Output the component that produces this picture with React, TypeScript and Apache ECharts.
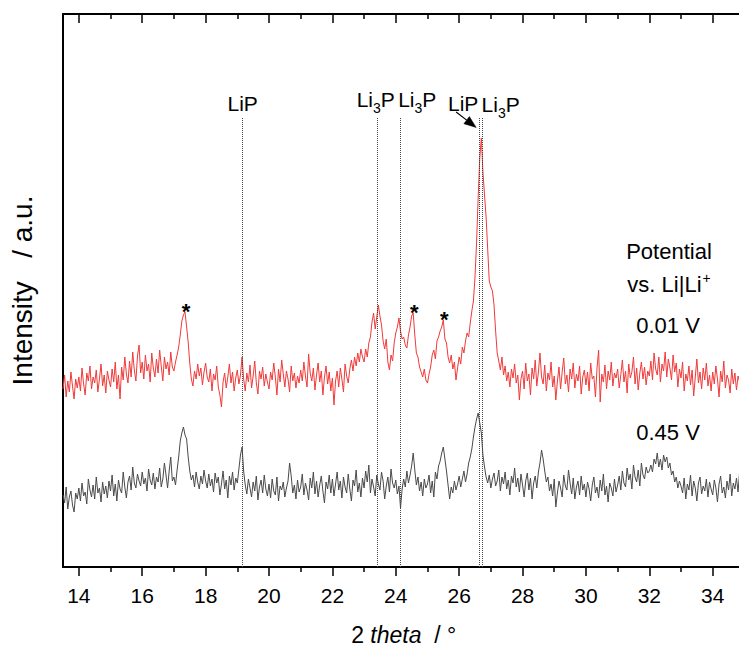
import { useEffect, useRef } from "react";
import * as echarts from "echarts";

const FONT = '"Liberation Sans", Arial, Helvetica, sans-serif';

// 2θ sampling of both patterns
const THETA_START = 13.5;
const THETA_STEP = 0.05;

// Intensity (a.u.) at 0.01 V vs Li|Li+ (red), one row per degree
const INTENSITY_0_01V = [
  178, 192, 170, 186, 175, 195, 181, 168, 188, 179,
  190, 176, 199, 183, 172, 194, 186, 201, 178, 190, 184, 197, 175, 188, 203, 181, 192, 174, 196, 187,
  180, 198, 185, 205, 178, 192, 168, 200, 187, 210, 193, 184, 206, 190, 215, 197, 186, 211, 222, 194,
  205, 188, 212, 196, 203, 185, 214, 199, 190, 208, 194, 217, 201, 186, 210, 198, 205, 192, 215, 200,
  196, 205, 212, 220, 232, 246, 252, 255, 240, 225, 204, 188, 181, 196, 188, 203, 191, 199, 182, 195,
  204, 190, 185, 198, 176, 193, 187, 201, 180, 172, 160, 185, 194, 179, 190, 203, 184, 195, 176, 189,
  197, 183, 192, 210, 188, 176, 194, 185, 202, 179, 191, 206, 184, 173, 196, 188, 200, 181, 193, 185,
  178, 195, 187, 204, 190, 172, 198, 185, 207, 193, 180, 196, 188, 175, 201, 186, 194, 179, 191, 184,
  197, 186, 205, 191, 180, 213, 194, 186, 199, 177, 192, 204, 185, 196, 172, 190, 201, 183, 195, 176,
  189, 162, 186, 196, 180, 199, 188, 175, 203, 191, 184, 198, 207, 196, 210, 201, 214, 205, 218, 210,
  205, 218, 210, 224, 230, 245, 254, 238, 250, 262, 251, 242, 226, 218, 228, 205, 197, 212, 206, 224,
  234, 240, 249, 236, 228, 230, 222, 219, 232, 240, 251, 254, 232, 214, 210, 200, 195, 190, 198, 187,
  184, 193, 200, 212, 217, 208, 226, 230, 236, 240, 247, 228, 224, 210, 204, 212, 198, 205, 187, 199,
  210, 203, 220, 214, 226, 234, 230, 244, 256, 266, 290, 325, 370, 409, 429, 395, 372, 350, 318, 286,
  280, 276, 262, 236, 214, 206, 197, 210, 192, 201, 186, 195, 180, 198, 189, 203, 184, 192, 167, 188,
  196, 178, 204, 186, 193, 172, 199, 188, 207, 181, 195, 214, 190, 183, 202, 176, 194, 187, 205, 180,
  191, 167, 186, 200, 178, 195, 209, 183, 192, 175, 198, 188, 204, 179, 193, 186, 201, 173, 190, 197,
  182, 195, 176, 204, 188, 191, 170, 199, 217, 165, 193, 185, 202, 178, 196, 187, 205, 181, 194, 189,
  198, 179, 192, 207, 185, 196, 174, 203, 189, 195, 210, 183, 199, 177, 194, 205, 188, 200, 182, 196,
  191, 206, 187, 214, 198, 192, 210, 185, 203, 196, 215, 190, 208, 199, 187, 212, 195, 204, 180, 198,
  189, 205, 176, 193, 186, 201, 182, 197, 171, 190, 208, 184, 195, 178, 199, 187, 204, 181, 192, 176,
  195, 183, 201, 188, 170, 196, 185, 206, 179, 192, 187, 174, 198, 183, 194, 177, 191, 185, 199, 180,
  188,
];

// Intensity (a.u.) at 0.45 V vs Li|Li+ (grey)
const INTENSITY_0_45V = [
  72, 64, 80, 58, 70, 76, 62, 55, 74, 68,
  79, 66, 84, 71, 75, 63, 88, 77, 70, 82, 68, 90, 74, 79, 65, 85, 73, 81, 69, 86,
  76, 92, 71, 83, 66, 87, 78, 74, 95, 80, 69, 85, 91, 77, 100, 84, 79, 93, 86, 81,
  95, 83, 89, 76, 98, 87, 82, 94, 78, 90, 85, 99, 80, 88, 104, 92, 79, 96, 110, 86,
  90, 82, 97, 110, 126, 134, 140, 132, 128, 110, 96, 87, 92, 80, 95, 85, 78, 91, 83, 97,
  86, 79, 93, 81, 88, 75, 94, 84, 90, 72, 83, 96, 78, 87, 69, 91, 82, 95, 77, 89,
  84, 98, 112, 120, 96, 82, 73, 88, 79, 70, 85, 76, 91, 67, 80, 87, 74, 92, 78, 71,
  83, 69, 88, 76, 72, 90, 66, 81, 77, 85, 70, 79, 86, 104, 91, 74, 82, 68, 87, 75,
  80, 93, 72, 84, 77, 67, 89, 79, 95, 73, 86, 70, 82, 91, 76, 64, 85, 78, 92, 74,
  88, 71, 83, 95, 77, 86, 69, 90, 80, 74, 93, 78, 66, 87, 81, 97, 75, 84, 70, 89,
  79, 96, 85, 102, 74, 88, 80, 71, 92, 83, 77, 95, 86, 68, 81, 90, 75, 98, 84, 79,
  87, 73, 81, 59, 78, 88, 80, 96, 84, 92, 101, 114, 97, 82, 90, 76, 85, 71, 88, 79,
  83, 92, 74, 86, 70, 95, 88, 101, 106, 114, 120, 108, 96, 82, 68, 80, 74, 86, 77, 83,
  91, 80, 88, 96, 85, 93, 104, 110, 118, 130, 140, 148, 154, 144, 134, 112, 100, 90, 84, 92,
  79, 88, 94, 81, 86, 97, 76, 90, 83, 95, 78, 87, 72, 91, 84, 99, 80, 89, 75, 93,
  82, 70, 86, 94, 77, 89, 68, 84, 91, 79, 95, 104, 117, 108, 96, 85, 90, 76, 83, 71,
  88, 60, 74, 86, 79, 70, 92, 81, 77, 97, 84, 73, 89, 68, 80, 86, 72, 91, 77, 83,
  70, 85, 78, 66, 82, 90, 74, 80, 69, 87, 76, 93, 72, 81, 65, 84, 79, 71, 88, 75,
  82, 91, 77, 96, 84, 80, 99, 87, 93, 78, 102, 90, 85, 97, 81, 104, 92, 88, 100, 94,
  96, 102, 95, 108, 103, 114, 100, 108, 97, 112, 105, 110, 99, 104, 92, 96, 85, 90, 79, 86,
  81, 74, 89, 68, 83, 77, 92, 71, 86, 79, 66, 84, 90, 73, 81, 76, 88, 70, 85, 78,
  72, 87, 79, 65, 83, 91, 74, 80, 69, 86, 77, 93, 71, 84, 78, 89, 75, 96, 82, 88,
  80,
];

const X_MIN = 13.5;
const X_MAX = 35;
const Y_MIN = 0;
const Y_MAX = 553;

const X_MAJOR_TICKS = [14, 16, 18, 20, 22, 24, 26, 28, 30, 32, 34];
const X_MINOR_TICKS = [15, 17, 19, 21, 23, 25, 27, 29, 31, 33, 35];

// Reference reflections (dotted lines)
const REF_PHASES = ["LiP", "Li3P", "Li3P", "LiP", "Li3P"];
const REF_THETA = [19.17, 23.43, 24.14, 26.63, 26.74];
const REF_TOP = 449;

// Peaks marked with an asterisk (on the 0.01 V pattern)
const STAR_THETA = [17.35, 24.55, 25.5];
const STAR_VALUE = [255, 254, 247];

const SERIES_NAMES = ["0.01 V", "0.45 V"];

// layout of annotation texts (pixel offsets)
const LABEL_DX = [0, -2, 17, -16, 18];
const LABEL_DY = [-15, -18.5, -18.5, -15, -13.5];

export default function App() {
  const ref = useRef<HTMLDivElement>(null);

  useEffect(() => {
    document.body.style.margin = "0";
    const chart = echarts.init(ref.current!, null, { renderer: "svg" });

    const toPairs = (arr: number[]) =>
      arr.map((v, i) => [Number((THETA_START + i * THETA_STEP).toFixed(2)), v]);

    const black = { color: "#000", width: 2 };
    const tickStyle = { color: "#000", width: 1.5 };
    const xCommon = {
      type: "value",
      min: X_MIN,
      max: X_MAX,
      splitLine: { show: false },
      gridIndex: 0,
    };

    chart.setOption({
      animation: false,
      backgroundColor: "#fff",
      grid: {
        left: 63,
        top: 14,
        width: 681.4,
        height: 553,
        containLabel: false,
        outerBoundsMode: "none",
      },
      xAxis: [
        {
          ...xCommon,
          position: "bottom",
          axisLine: { show: true, onZero: false, lineStyle: black },
          axisTick: {
            show: true,
            inside: false,
            length: 9,
            customValues: X_MAJOR_TICKS,
            lineStyle: tickStyle,
          },
          axisLabel: {
            show: true,
            customValues: X_MAJOR_TICKS,
            margin: 18,
            fontSize: 21,
            color: "#000",
            fontFamily: FONT,
          },
          name: "{n|2 }{it|theta}{n|  / °}",
          nameLocation: "middle",
          nameGap: 56,
          nameTextStyle: {
            fontSize: 23,
            fontFamily: FONT,
            color: "#000",
            rich: {
              n: { fontSize: 23, fontFamily: FONT, color: "#000" },
              it: { fontSize: 23, fontFamily: FONT, color: "#000", fontStyle: "italic" },
            },
          },
        },
        {
          ...xCommon,
          position: "bottom",
          axisLine: { show: false, onZero: false },
          axisTick: {
            show: true,
            inside: false,
            length: 5,
            customValues: X_MINOR_TICKS,
            lineStyle: tickStyle,
          },
          axisLabel: { show: false },
        },
        {
          ...xCommon,
          position: "top",
          axisLine: { show: true, onZero: false, lineStyle: black },
          axisTick: {
            show: true,
            inside: true,
            length: 9,
            customValues: X_MAJOR_TICKS,
            lineStyle: tickStyle,
          },
          axisLabel: { show: false },
        },
        {
          ...xCommon,
          position: "top",
          axisLine: { show: false, onZero: false },
          axisTick: {
            show: true,
            inside: true,
            length: 5,
            customValues: X_MINOR_TICKS,
            lineStyle: tickStyle,
          },
          axisLabel: { show: false },
        },
      ],
      yAxis: {
        type: "value",
        min: Y_MIN,
        max: Y_MAX,
        axisLine: { show: true, onZero: false, lineStyle: black },
        axisTick: { show: false },
        axisLabel: { show: false },
        splitLine: { show: false },
        name: "Intensity   / a.u.",
        nameLocation: "middle",
        nameGap: 27,
        nameTextStyle: { fontSize: 28, fontFamily: FONT, color: "#000" },
      },
      series: [
        {
          type: "line",
          name: SERIES_NAMES[0],
          data: toPairs(INTENSITY_0_01V),
          symbol: "none",
          showSymbol: false,
          lineStyle: { color: "#f03a3a", width: 1 },
          itemStyle: { color: "#f03a3a" },
          z: 3,
          markLine: {
            silent: true,
            symbol: ["none", "none"],
            label: { show: false },
            lineStyle: { type: "dotted", color: "#444", width: 1 },
            data: REF_THETA.map((t) => [{ coord: [t, Y_MIN] }, { coord: [t, REF_TOP] }]),
          },
        },
        {
          type: "line",
          name: SERIES_NAMES[1],
          data: toPairs(INTENSITY_0_45V),
          symbol: "none",
          showSymbol: false,
          lineStyle: { color: "#4a4a4a", width: 1 },
          itemStyle: { color: "#4a4a4a" },
          z: 3,
        },
      ],
    });

    const px = (t: number, v: number) =>
      chart.convertToPixel({ xAxisIndex: 0, yAxisIndex: 0 }, [t, v]) as number[];

    const richPhase = {
      m: { fontSize: 21, fontFamily: FONT, fill: "#000", verticalAlign: "middle" },
      s: {
        fontSize: 14,
        lineHeight: 14,
        fontFamily: FONT,
        fill: "#000",
        verticalAlign: "middle",
        padding: [17, 0, 0, 0],
      },
    };

    const graphics: any[] = [];
    REF_THETA.forEach((t, i) => {
      const [x, y] = px(t, REF_TOP);
      const txt =
        REF_PHASES[i] === "Li3P" ? "{m|Li}{s|3}{m|P}" : "{m|" + REF_PHASES[i] + "}";
      graphics.push({
        type: "text",
        x: x + LABEL_DX[i],
        y: y + LABEL_DY[i],
        z: 10,
        style: {
          text: txt,
          rich: richPhase,
          align: "center",
          verticalAlign: "middle",
          fill: "#000",
        },
      });
    });

    // arrow from the LiP label to its line
    {
      const [x, y] = px(REF_THETA[3], REF_TOP);
      const sx = x - 23, sy = y - 6;
      const tx = x - 3, ty = y + 9.5;
      const dx = tx - sx, dy = ty - sy;
      const len = Math.hypot(dx, dy);
      const ux = dx / len, uy = dy / len;
      const hl = 12, hw = 4.5;
      const bx = tx - ux * hl, by = ty - uy * hl;
      graphics.push({
        type: "polyline",
        z: 10,
        shape: { points: [[sx, sy], [bx, by]] },
        style: { stroke: "#000", lineWidth: 1.2, fill: null },
      });
      graphics.push({
        type: "polygon",
        z: 10,
        shape: {
          points: [
            [tx, ty],
            [bx - uy * hw, by + ux * hw],
            [bx + uy * hw, by - ux * hw],
          ],
        },
        style: { fill: "#000", stroke: "#000", lineWidth: 0.5 },
      });
    }

    STAR_THETA.forEach((t, i) => {
      const [x, y] = px(t, STAR_VALUE[i]);
      graphics.push({
        type: "text",
        x: x + 1,
        y: y - 1,
        z: 10,
        style: {
          text: "*",
          fontSize: 22,
          fontWeight: "bold",
          fontFamily: FONT,
          fill: "#000",
          align: "center",
          verticalAlign: "middle",
        },
      });
    });

    const rightText = (text: string, x: number, y: number, rich?: any) => ({
      type: "text",
      x,
      y,
      z: 10,
      style: {
        text,
        rich,
        fontSize: 22,
        fontFamily: FONT,
        fill: "#000",
        align: "center",
        verticalAlign: "middle",
      },
    });
    graphics.push(rightText("Potential", 669, 251));
    graphics.push(
      rightText("{m|vs. Li|Li}{p|+}", 669, 284, {
        m: { fontSize: 22, fontFamily: FONT, fill: "#000", verticalAlign: "middle" },
        p: {
          fontSize: 14,
          lineHeight: 14,
          fontFamily: FONT,
          fill: "#000",
          verticalAlign: "middle",
          padding: [0, 0, 13, 1],
        },
      })
    );
    graphics.push(rightText(SERIES_NAMES[0], 668, 325));
    graphics.push(rightText(SERIES_NAMES[1], 668, 432));

    chart.setOption({ graphic: graphics });

    return () => chart.dispose();
  }, []);

  return <div ref={ref} style={{ width: 739, height: 647 }} />;
}
